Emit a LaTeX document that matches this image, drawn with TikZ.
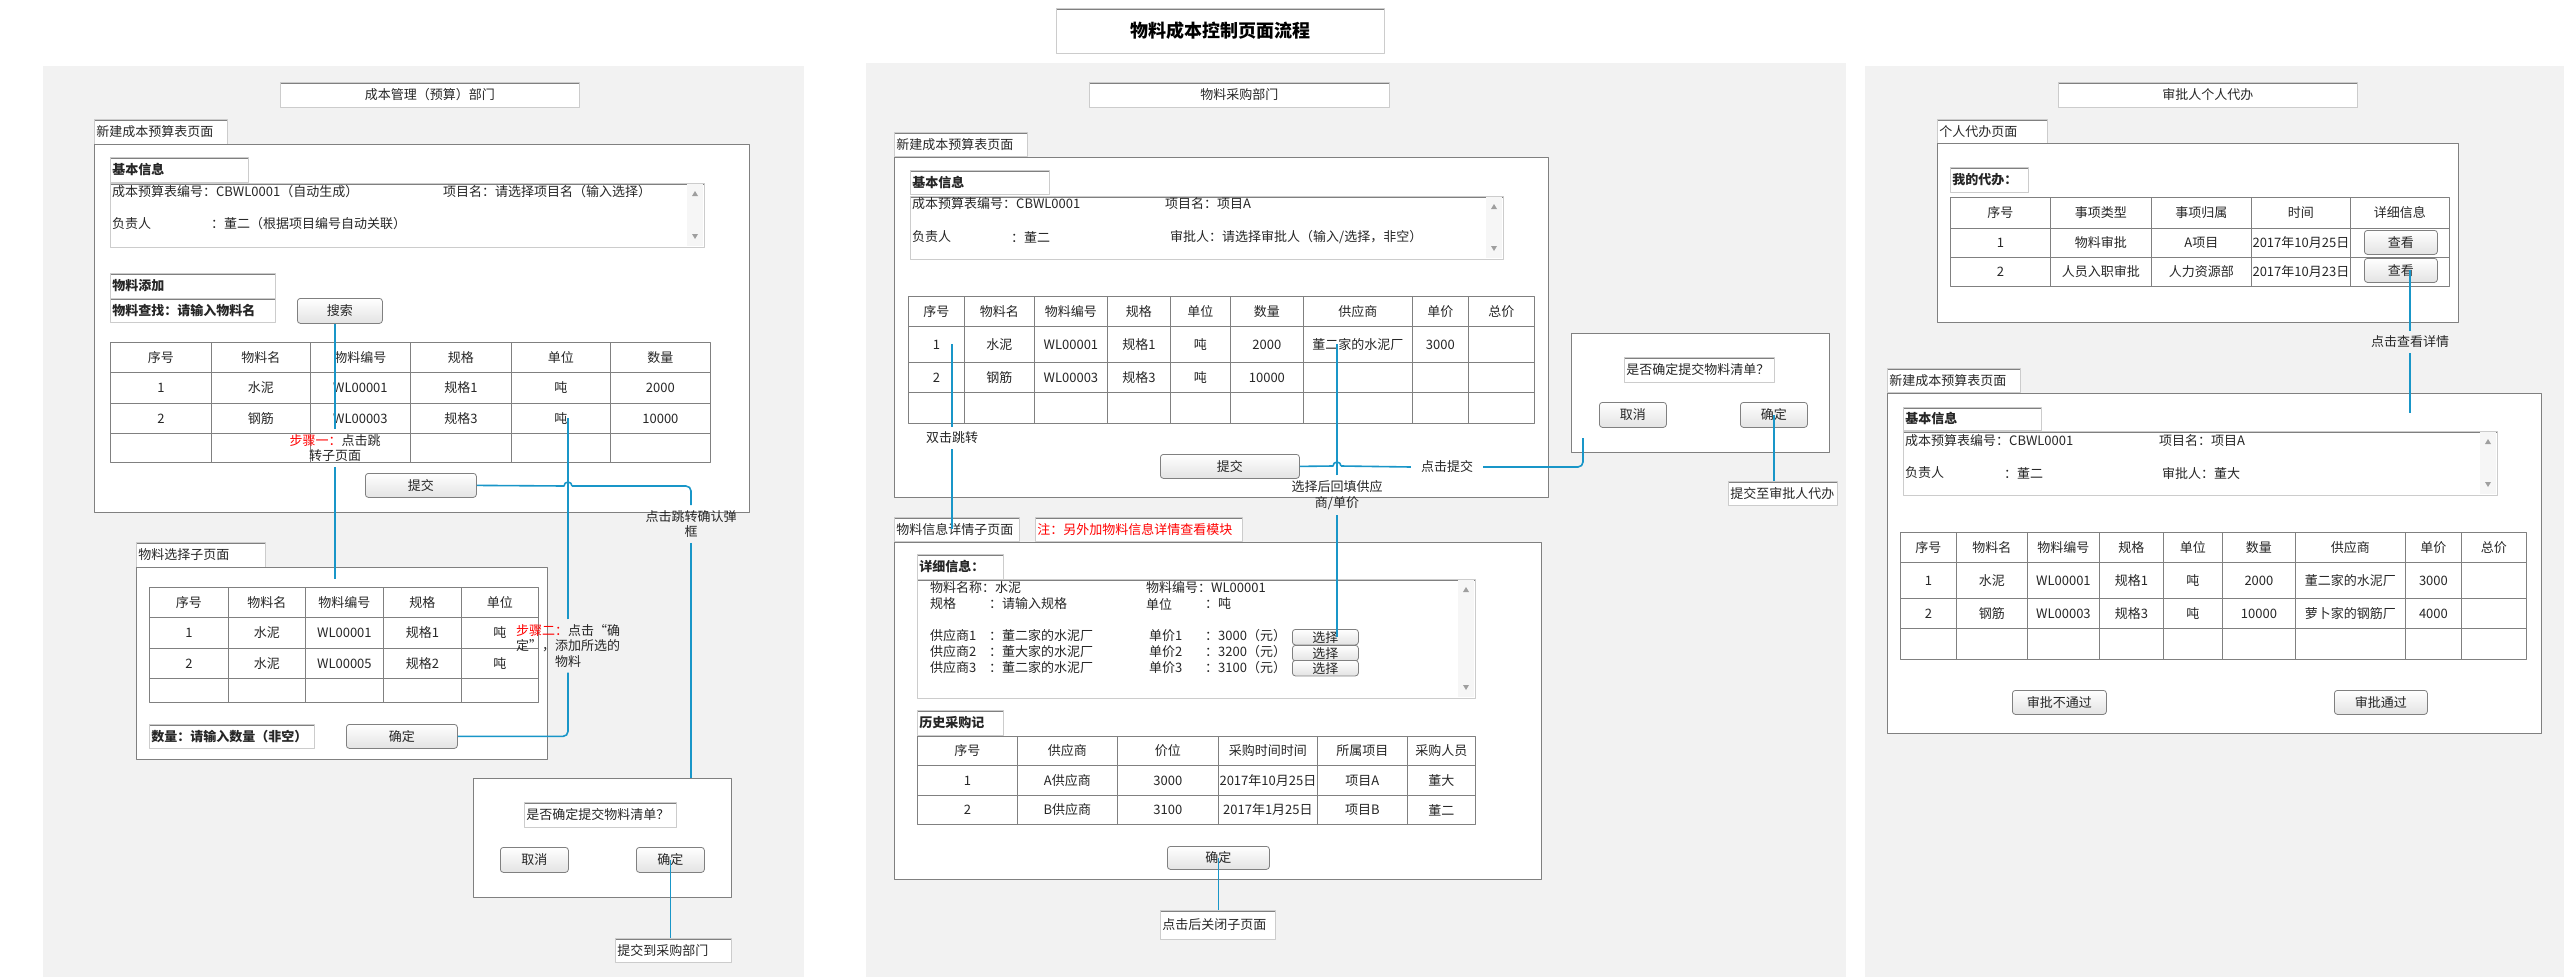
\documentclass[tikz,border=0pt]{standalone}
\usepackage{fontspec}
\setmainfont{Noto Sans CJK SC}
\usetikzlibrary{positioning}

\definecolor{panelgray}{HTML}{F2F2F2}
\definecolor{rulegray}{HTML}{808080}
\definecolor{softgray}{HTML}{CCCCCC}
\definecolor{flowblue}{HTML}{1996C8}
\definecolor{btngray}{HTML}{E3E3E3}

% scroll strip of a text area: x, top, bottom
\newcommand{\scrollbar}[3]{%
  \fill[gray!7] (#1,#2) rectangle ({#1+16},#3);
  \fill[gray!75] ({#1+5},{#2+12}) -- ({#1+11},{#2+12}) -- ({#1+8},{#2+7}) -- cycle;
  \fill[gray!75] ({#1+5},{#3-12}) -- ({#1+11},{#3-12}) -- ({#1+8},{#3-7}) -- cycle;
}

\tikzset{
  every node/.style={font=\fontsize{13}{15.5}\selectfont, text=black!85},
  panel/.style={fill=panelgray},
  page/.style={draw=rulegray, fill=white, line width=0.9pt, anchor=north west, inner sep=0pt},
  tab/.style={draw=softgray, fill=white, line width=0.8pt, anchor=north west,
    inner xsep=2pt, inner ysep=0pt, align=left,
    path picture={\draw[rulegray, line width=2.4pt]
      (path picture bounding box.north west) -- (path picture bounding box.north east);}},
  headbox/.style={tab, align=center, inner xsep=0pt},
  boldtab/.style={tab, font=\fontsize{13}{15.5}\selectfont\bfseries},
  button/.style={draw=rulegray, rounded corners=3pt, top color=white, bottom color=btngray,
    anchor=north west, inner sep=0pt, line width=0.8pt},
  cell/.style={draw=rulegray, line width=0.8pt, anchor=north west, inner sep=0pt},
  dialog/.style={draw=rulegray, fill=white, line width=0.9pt, anchor=north west},
  flow/.style={draw=flowblue, line width=1.6pt},
  lbl/.style={inner sep=5pt, align=center},
  txt/.style={anchor=west, inner sep=0pt},
}

\begin{document}
\begin{tikzpicture}[x=1pt, y=-1pt, line join=round]

  \fill[white] (0,0) rectangle (2564,977);
  \useasboundingbox (0,0) rectangle (2564,977);

  % lanes
  \fill[panel] (43,66) rectangle (804,977);
  \fill[panel] (866,63) rectangle (1846,977);
  \fill[panel] (1865,66) rectangle (2564,977);

  \node[headbox, minimum width=328pt, minimum height=45pt,
    font=\fontsize{18}{20}\selectfont\bfseries, text=black] (title) at (1056,8) {物料成本控制页面流程};

  % ---------------- 成本管理（预算）部门 ----------------
  \node[headbox, minimum width=299pt, minimum height=25pt] (l-dept) at (280,82) {成本管理（预算）部门};
  \node[tab, text width=129pt, minimum height=25pt] (l-tab) at (94,119) {新建成本预算表页面};
  \node[page, minimum width=655pt, minimum height=368pt] (l-page) at (94,144) {};
  \node[boldtab, text width=134pt, minimum height=25pt] (l-base) at (110,157) {基本信息};
  \node[tab, minimum width=594pt, minimum height=64pt] (l-info) at (110,183) {};
  \scrollbar{687}{184}{246}
  \node[txt] (l-no) at (112,192) {成本预算表编号：CBWL0001（自动生成）};
  \node[txt] (l-proj) at (443,192) {项目名：请选择项目名（输入选择）};
  \node[txt] (l-man) at (112,223.5) {负责人};
  \node[txt] (l-manv) at (211,223.5) {：董二（根据项目编号自动关联）};
  \node[boldtab, text width=161pt, minimum height=25pt] (l-add) at (110,273) {物料添加};
  \node[boldtab, text width=161pt, minimum height=24pt] (l-find) at (110,298) {物料查找：请输入物料名};
  \node[button, minimum width=85pt, minimum height=25pt] (l-search) at (297,298) {搜索};

  \foreach \xa/\xb/\ca/\cb/\cc [count=\k] in {110/211/序号/1/2, 211/310/物料名/水泥/钢筋,
      310/410/物料编号/WL00001/WL00003, 410/511/规格/规格1/规格3, 511/610/单位/吨/吨, 610/710/数量/2000/10000}{
    \node[cell, minimum width={\xb-\xa}, minimum height=30pt] (lt-h\k) at (\xa,342) {\ca};
    \node[cell, minimum width={\xb-\xa}, minimum height=31pt] (lt-a\k) at (\xa,372) {\cb};
    \node[cell, minimum width={\xb-\xa}, minimum height=30pt] (lt-b\k) at (\xa,403) {\cc};
    \node[cell, minimum width={\xb-\xa}, minimum height=29pt] (lt-c\k) at (\xa,433) {};
  }
  \node[button, minimum width=111pt, minimum height=24pt] (l-submit) at (365,473) {提交};

  % 物料选择子页面
  \node[tab, text width=125pt, minimum height=25pt] (s-tab) at (136,542) {物料选择子页面};
  \node[page, minimum width=411pt, minimum height=192pt] (s-page) at (136,567) {};
  \foreach \xa/\xb/\ca/\cb/\cc [count=\k] in {149/228/序号/1/2, 228/305/物料名/水泥/水泥,
      305/383/物料编号/WL00001/WL00005, 383/461/规格/规格1/规格2, 461/538/单位/吨/吨}{
    \node[cell, minimum width={\xb-\xa}, minimum height=30pt] (st-h\k) at (\xa,587) {\ca};
    \node[cell, minimum width={\xb-\xa}, minimum height=31pt] (st-a\k) at (\xa,617) {\cb};
    \node[cell, minimum width={\xb-\xa}, minimum height=30pt] (st-b\k) at (\xa,648) {\cc};
    \node[cell, minimum width={\xb-\xa}, minimum height=24pt] (st-c\k) at (\xa,678) {};
  }
  \node[boldtab, text width=161pt, minimum height=24pt] (s-qty) at (149,724) {数量：请输入数量（非空）};
  \node[button, minimum width=111pt, minimum height=24pt] (s-ok) at (346,724) {确定};

  % 确认弹框
  \node[dialog, minimum width=258pt, minimum height=119pt] (l-dlg) at (473,778) {};
  \node[tab, text width=148pt, minimum height=25pt] (l-ask) at (524,802) {是否确定提交物料清单？};
  \node[button, minimum width=68pt, minimum height=25pt] (l-cancel) at (500,847) {取消};
  \node[button, minimum width=68pt, minimum height=25pt] (l-ok) at (636,847) {确定};
  \node[tab, text width=112pt, minimum height=24pt] (l-send) at (615,938) {提交到采购部门};

  \node[lbl] (l-step1) at (335,448) {{\color{red}步骤一：}点击跳\\转子页面};
  \node[lbl] (l-step2) at (568,646) {{\color{red}步骤二：}点击“确\\定”，添加所选的\\物料};
  \node[lbl] (l-jump) at (691,524) {点击跳转确认弹\\框};
  \coordinate (l-subin) at (335,579);
  \coordinate (l-hop) at (568,486);

  % ---------------- 物料采购部门 ----------------
  \node[headbox, minimum width=300pt, minimum height=25pt] (m-dept) at (1089,82) {物料采购部门};
  \node[tab, text width=129pt, minimum height=24pt] (m-tab) at (894,132) {新建成本预算表页面};
  \node[page, minimum width=654pt, minimum height=340pt] (m-page) at (894,157) {};
  \node[boldtab, text width=135pt, minimum height=24pt] (m-base) at (910,170) {基本信息};
  \node[tab, minimum width=593pt, minimum height=63pt] (m-info) at (910,196) {};
  \scrollbar{1486}{197}{258}
  \node[txt] (m-no) at (912,204) {成本预算表编号：CBWL0001};
  \node[txt] (m-proj) at (1165,204) {项目名：项目A};
  \node[txt] (m-man) at (912,237) {负责人};
  \node[txt] (m-manv) at (1011,237) {：董二};
  \node[txt] (m-appr) at (1170,237) {审批人：请选择审批人（输入/选择，非空）};

  \foreach \xa/\xb/\ca/\cb/\cc [count=\k] in {908/964/序号/1/2, 964/1034/物料名/水泥/钢筋,
      1034/1107/物料编号/WL00001/WL00003, 1107/1170/规格/规格1/规格3, 1170/1230/单位/吨/吨,
      1230/1303/数量/2000/10000, 1303/1412/供应商/董二家的水泥厂/{}, 1412/1468/单价/3000/{}, 1468/1534/总价/{}/{}}{
    \node[cell, minimum width={\xb-\xa}, minimum height=30pt] (mt-h\k) at (\xa,296) {\ca};
    \node[cell, minimum width={\xb-\xa}, minimum height=36pt] (mt-a\k) at (\xa,326) {\cb};
    \node[cell, minimum width={\xb-\xa}, minimum height=30pt] (mt-b\k) at (\xa,362) {\cc};
    \node[cell, minimum width={\xb-\xa}, minimum height=31pt] (mt-c\k) at (\xa,392) {};
  }
  \node[button, minimum width=139pt, minimum height=24pt] (m-submit) at (1160,454) {提交};

  % 确认弹框
  \node[dialog, minimum width=258pt, minimum height=119pt] (m-dlg) at (1571,333) {};
  \node[tab, text width=146pt, minimum height=25pt] (m-ask) at (1624,357) {是否确定提交物料清单？};
  \node[button, minimum width=67pt, minimum height=25pt] (m-cancel) at (1599,402) {取消};
  \node[button, minimum width=67pt, minimum height=25pt] (m-ok) at (1740,402) {确定};
  \node[tab, text width=105pt, minimum height=24pt] (m-send) at (1728,481) {提交至审批人代办};

  % 物料信息详情子页面
  \node[tab, text width=121pt, minimum height=24pt] (d-tab) at (894,517) {物料信息详情子页面};
  \node[tab, text width=203pt, minimum height=24pt, text=red] (d-note) at (1035,517) {注：另外加物料信息详情查看模块};
  \node[page, minimum width=647pt, minimum height=337pt] (d-page) at (894,542) {};
  \node[boldtab, text width=82pt, minimum height=25pt] (d-base) at (917,554) {详细信息：};
  \node[tab, minimum width=558pt, minimum height=119pt] (d-info) at (917,579) {};
  \scrollbar{1458}{580}{697}
  \node[txt] (d-name) at (930,588) {物料名称：水泥};
  \node[txt] (d-code) at (1146,588) {物料编号：WL00001};
  \node[txt] (d-spec) at (930,604) {规格};
  \node[txt] (d-specv) at (989,604) {：请输入规格};
  \node[txt] (d-unit) at (1146,604) {单位};
  \node[txt] (d-unitv) at (1205,604) {：吨};
  \foreach \yy/\ys/\sp/\nm/\pr in {636/629/1/董二家的水泥厂/3000, 652/645/2/董大家的水泥厂/3200, 668/660/3/董二家的水泥厂/3100}{
    \node[txt] (d-sup\sp) at (930,\yy) {供应商\sp};
    \node[txt] (d-supv\sp) at (989,\yy) {：\nm};
    \node[txt] (d-pr\sp) at (1149,\yy) {单价\sp};
    \node[txt] (d-prv\sp) at (1205,\yy) {：\pr（元）};
    \node[button, minimum width=66pt, minimum height=15.5pt] (d-sel\sp) at (1292,\ys) {选择};
  }
  \node[boldtab, text width=82pt, minimum height=25pt] (d-hist) at (917,710) {历史采购记};
  \foreach \xa/\xb/\ca/\cb/\cc [count=\k] in {917/1017/序号/1/2, 1017/1117/供应商/A供应商/B供应商,
      1117/1218/价位/3000/3100, 1218/1317/采购时间时间/2017年10月25日/2017年1月25日,
      1317/1407/所属项目/项目A/项目B, 1407/1475/采购人员/董大/董二}{
    \node[cell, minimum width={\xb-\xa}, minimum height=29pt] (ht-h\k) at (\xa,736) {\ca};
    \node[cell, minimum width={\xb-\xa}, minimum height=30pt] (ht-a\k) at (\xa,765) {\cb};
    \node[cell, minimum width={\xb-\xa}, minimum height=29pt] (ht-b\k) at (\xa,795) {\cc};
  }
  \node[button, minimum width=102pt, minimum height=23pt] (d-ok) at (1167,846) {确定};
  \node[tab, text width=111pt, minimum height=29pt] (d-close) at (1160,910) {点击后关闭子页面};

  \node[lbl] (m-dbl) at (952,438) {双击跳转};
  \node[lbl] (m-back) at (1337,495) {选择后回填供应\\商/单价};
  \node[lbl, inner xsep=10pt] (m-commit) at (1447,467) {点击提交};
  \coordinate (m-dlgin) at (1583,438);
  \coordinate (m-hop) at (1337,466);

  % ---------------- 审批人个人代办 ----------------
  \node[headbox, minimum width=299pt, minimum height=25pt] (r-dept) at (2058,82) {审批人个人代办};
  \node[tab, text width=106pt, minimum height=24pt] (r-tab) at (1937,119) {个人代办页面};
  \node[page, minimum width=521pt, minimum height=179pt] (r-page) at (1937,143) {};
  \node[boldtab, text width=74pt, minimum height=25pt] (r-todo) at (1950,167) {我的代办：};
  \foreach \xa/\xb/\ca/\cb/\cc [count=\k] in {1950/2050/序号/1/2, 2050/2151/事项类型/物料审批/人员入职审批,
      2151/2251/事项归属/A项目/人力资源部, 2251/2350/时间/2017年10月25日/2017年10月23日, 2350/2449/详细信息/{}/{}}{
    \node[cell, minimum width={\xb-\xa}, minimum height=31pt] (rt-h\k) at (\xa,197) {\ca};
    \node[cell, minimum width={\xb-\xa}, minimum height=29pt] (rt-a\k) at (\xa,228) {\cb};
    \node[cell, minimum width={\xb-\xa}, minimum height=29pt] (rt-b\k) at (\xa,257) {\cc};
  }
  \node[button, minimum width=73pt, minimum height=24pt] (r-view1) at (2364,230) {查看};
  \node[button, minimum width=73pt, minimum height=24pt] (r-view2) at (2364,258) {查看};

  \node[tab, text width=129pt, minimum height=24pt] (a-tab) at (1887,368) {新建成本预算表页面};
  \node[page, minimum width=654pt, minimum height=340pt] (a-page) at (1887,393) {};
  \node[boldtab, text width=134pt, minimum height=23pt] (a-base) at (1903,407) {基本信息};
  \node[tab, minimum width=594pt, minimum height=64pt] (a-info) at (1903,431) {};
  \scrollbar{2480}{432}{494}
  \node[txt] (a-no) at (1905,441) {成本预算表编号：CBWL0001};
  \node[txt] (a-proj) at (2159,441) {项目名：项目A};
  \node[txt] (a-man) at (1905,473) {负责人};
  \node[txt] (a-manv) at (2004,473) {：董二};
  \node[txt] (a-appr) at (2162,473) {审批人：董大};
  \foreach \xa/\xb/\ca/\cb/\cc [count=\k] in {1900/1956/序号/1/2, 1956/2027/物料名/水泥/钢筋,
      2027/2099/物料编号/WL00001/WL00003, 2099/2163/规格/规格1/规格3, 2163/2222/单位/吨/吨,
      2222/2295/数量/2000/10000, 2295/2405/供应商/董二家的水泥厂/萝卜家的钢筋厂, 2405/2461/单价/3000/4000, 2461/2526/总价/{}/{}}{
    \node[cell, minimum width={\xb-\xa}, minimum height=30pt] (at-h\k) at (\xa,532) {\ca};
    \node[cell, minimum width={\xb-\xa}, minimum height=36pt] (at-a\k) at (\xa,562) {\cb};
    \node[cell, minimum width={\xb-\xa}, minimum height=30pt] (at-b\k) at (\xa,598) {\cc};
    \node[cell, minimum width={\xb-\xa}, minimum height=31pt] (at-c\k) at (\xa,628) {};
  }
  \node[button, minimum width=94pt, minimum height=24pt] (a-reject) at (2012,690) {审批不通过};
  \node[button, minimum width=93pt, minimum height=24pt] (a-pass) at (2334,690) {审批通过};

  \node[lbl] (r-detail) at (2410,342) {点击查看详情};
  \coordinate (r-in) at (2410,413);

  % ---------------- connectors ----------------
  \draw[flow] (l-search.south -| l-step1) -- (l-step1.north);
  \draw[flow] (l-step1.south) -- (l-subin);
  \draw[flow, rounded corners=5pt] (s-ok.east) -- (s-ok.east -| l-step2) -- (l-step2.south);
  \draw[flow] (l-step2.north) -- (lt-b5.center -| l-step2);
  \draw[flow] (l-submit.east) -- ([xshift=-4pt]l-hop) arc[start angle=180, end angle=0, radius=4pt];
  \draw[flow, rounded corners=5pt] ([xshift=4pt]l-hop) -- (l-hop -| l-jump) -- (l-jump.north);
  \draw[flow] (l-jump.south) -- (l-jump.south |- l-dlg.north);
  \draw[flow] (l-ok.center) -- (l-ok.center |- l-send.north);

  \draw[flow] (mt-a1.center -| m-dbl) -- (m-dbl.north);
  \draw[flow] (m-dbl.south) -- (m-dbl.south |- d-tab.center);
  \draw[flow] (d-sel1.center -| m-back) -- (m-back.south);
  \draw[flow] (m-back.north) -- (mt-a7.center -| m-back);
  \draw[flow] (m-submit.east) -- ([xshift=-4pt]m-hop) arc[start angle=180, end angle=0, radius=4pt];
  \draw[flow] ([xshift=4pt]m-hop) -- (m-commit.west);
  \draw[flow, rounded corners=5pt] (m-commit.east) -- (m-commit.east -| m-dlgin) -- (m-dlgin);
  \draw[flow] (m-ok.center) -- (m-ok.center |- m-send.north);
  \draw[flow] (d-ok.center) -- (d-ok.center |- d-close.north);

  \draw[flow] (r-view2.center -| r-detail) -- (r-detail.north);
  \draw[flow] (r-detail.south) -- (r-in);

\end{tikzpicture}
\end{document}
